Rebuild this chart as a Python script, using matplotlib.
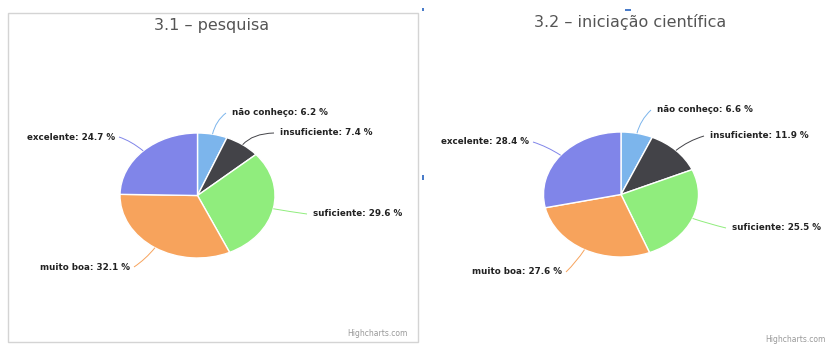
import numpy as np
import matplotlib
matplotlib.use('Agg')
import matplotlib.pyplot as plt
from matplotlib.patches import Rectangle, PathPatch
from matplotlib.path import Path

# dados
categorias = ['não conheço', 'insuficiente', 'suficiente', 'muito boa', 'excelente']
pesquisa = [6.2, 7.4, 29.6, 32.1, 24.7]
iniciacao = [6.6, 11.9, 25.5, 27.6, 28.4]
titulos = ['3.1 – pesquisa', '3.2 – iniciação científica']
cores = ['#7cb5ec', '#434348', '#90ed7d', '#f7a35c', '#8085e9']

# layout (pixels da imagem)
W, H = 826, 345
RX, RY = 77.5, 62.5  # raio horizontal / vertical da pizza (esticada)
centros = [(197.5, 195.5), (621, 194.5)]
pos_titulo = [(212, 26), (630, 22)]
pos_rotulos = [
    [(232, 113), (280, 133), (313, 214), (130, 267), (115, 137)],
    [(657, 110), (710, 136), (732, 228), (562, 272), (529, 142)],
]
pos_credito = [(408, 334), (826, 340)]


def dx(x):
    return x / RX


def dy(y):
    return (H - y) / RY


fig = plt.figure(figsize=(W / 100, H / 100), dpi=100)
ax = fig.add_axes([0, 0, 1, 1])

for i, valores in enumerate([pesquisa, iniciacao]):
    cx, cy = dx(centros[i][0]), dy(centros[i][1])
    wedges, _ = ax.pie(valores, colors=cores, startangle=90, counterclock=False,
                       center=(cx, cy), radius=1,
                       wedgeprops=dict(edgecolor='white', linewidth=1))
    for w, nome, v, (lx, ly) in zip(wedges, categorias, valores, pos_rotulos[i]):
        a = np.deg2rad((w.theta1 + w.theta2) / 2)
        esquerda = np.cos(a) < 0
        ex = lx + 4 if esquerda else lx - 6
        p0 = (cx + np.cos(a), cy + np.sin(a))
        p1 = (cx + 1.22 * np.cos(a), cy + 1.22 * np.sin(a))
        p2 = (dx(ex), dy(ly))
        caminho = Path([p0, p1, p2], [Path.MOVETO, Path.CURVE3, Path.CURVE3])
        ax.add_patch(PathPatch(caminho, fill=False, ec=w.get_facecolor(), lw=0.7))
        ax.text(dx(lx), dy(ly), f'{nome}: {v} %', ha='right' if esquerda else 'left',
                va='center', fontsize=6.3, fontweight='bold', color='#222222')
    tx, ty = pos_titulo[i]
    ax.text(dx(tx), dy(ty), titulos[i], ha='center', va='center',
            fontsize=11.5, color='#555555')
    kx, ky = pos_credito[i]
    ax.text(dx(kx), dy(ky), 'Highcharts.com', ha='right', va='center',
            fontsize=5.5, color='#999999')

# moldura do primeiro grafico
ax.add_patch(Rectangle((dx(8), dy(342)), (418 - 8) / RX, (342 - 13) / RY,
                       fill=False, ec='#d4d4d4', lw=1))
# marcas de selecao
for (x, y, w, h) in [(422, 8, 2, 3), (625, 9, 6, 2), (422, 175, 2, 5)]:
    ax.add_patch(Rectangle((dx(x), dy(y + h)), w / RX, h / RY, color='#4a7cc9', lw=0))

ax.set_xlim(0, W / RX)
ax.set_ylim(0, H / RY)
ax.set_aspect('auto')
ax.axis('off')

fig.savefig('out.png', dpi=100)
